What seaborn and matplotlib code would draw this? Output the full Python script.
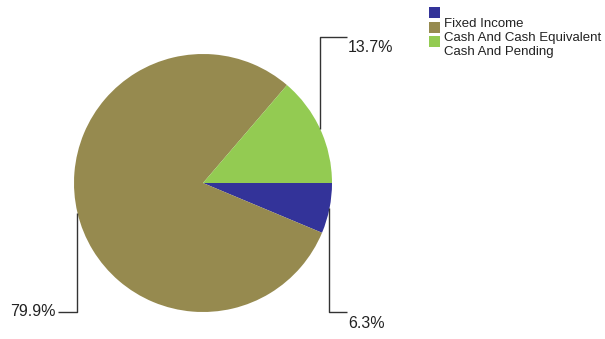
import numpy as np
import matplotlib
matplotlib.use("Agg")
import matplotlib.pyplot as plt
from matplotlib.patches import Rectangle
import seaborn as sns

# --- données ---
labels = ["Fixed Income", "Cash And Cash Equivalent", "Cash And Pending"]
shares = [6.3, 79.9, 13.7]
colors = ["#333399", "#968A4F", "#93CB52"]

sns.set_theme(style="white")
plt.rcParams["font.family"] = ["Liberation Sans", "DejaVu Sans"]

W, H = 605, 339
fig = plt.figure(figsize=(W / 100, H / 100), dpi=100)
ax = fig.add_axes([0, 0, 1, 1])

# camembert en coordonnées pixel (axe y inversé -> sens horaire à l'écran)
cx, cy, r = 203, 183, 129
wedges, _ = ax.pie(shares, colors=sns.color_palette(colors), startangle=0,
                   counterclock=True, center=(cx, cy), radius=r,
                   wedgeprops=dict(linewidth=0))
ax.set_xlim(0, W)
ax.set_ylim(H, 0)
ax.set_aspect("auto")
ax.axis("off")

# --- étiquettes avec lignes de rappel ---
line_kw = dict(color="#333333", lw=1, solid_capstyle="butt")
for w, val in zip(wedges, shares):
    mid = np.deg2rad((w.theta1 + w.theta2) / 2)
    x0 = cx + r * np.cos(mid)
    y0 = cy + r * np.sin(mid)
    y1 = 37 if y0 < cy else 312
    txt = f"{val:.1f}%"
    if x0 > cx:
        x1 = 347
        ax.plot([x0, x0, x1], [y0, y1, y1], **line_kw)
        ax.text(x1 + 1, y1 + 11, txt, ha="left", va="center",
                fontsize=11.5, color="#222222")
    else:
        x1 = 58
        ax.plot([x0, x0, x1], [y0, y1, y1], **line_kw)
        ax.text(x1 - 2, y1, txt, ha="right", va="center",
                fontsize=11.5, color="#222222")

# --- légende ---
for i, (lab, col) in enumerate(zip(labels, colors)):
    ax.add_patch(Rectangle((429, 7 + 14.5 * i), 11, 11, color=col, lw=0))
    ax.text(444, 27 + 14 * i, lab, ha="left", va="baseline",
            fontsize=9.5, color="#222222")

fig.savefig("out.png", dpi=100)
